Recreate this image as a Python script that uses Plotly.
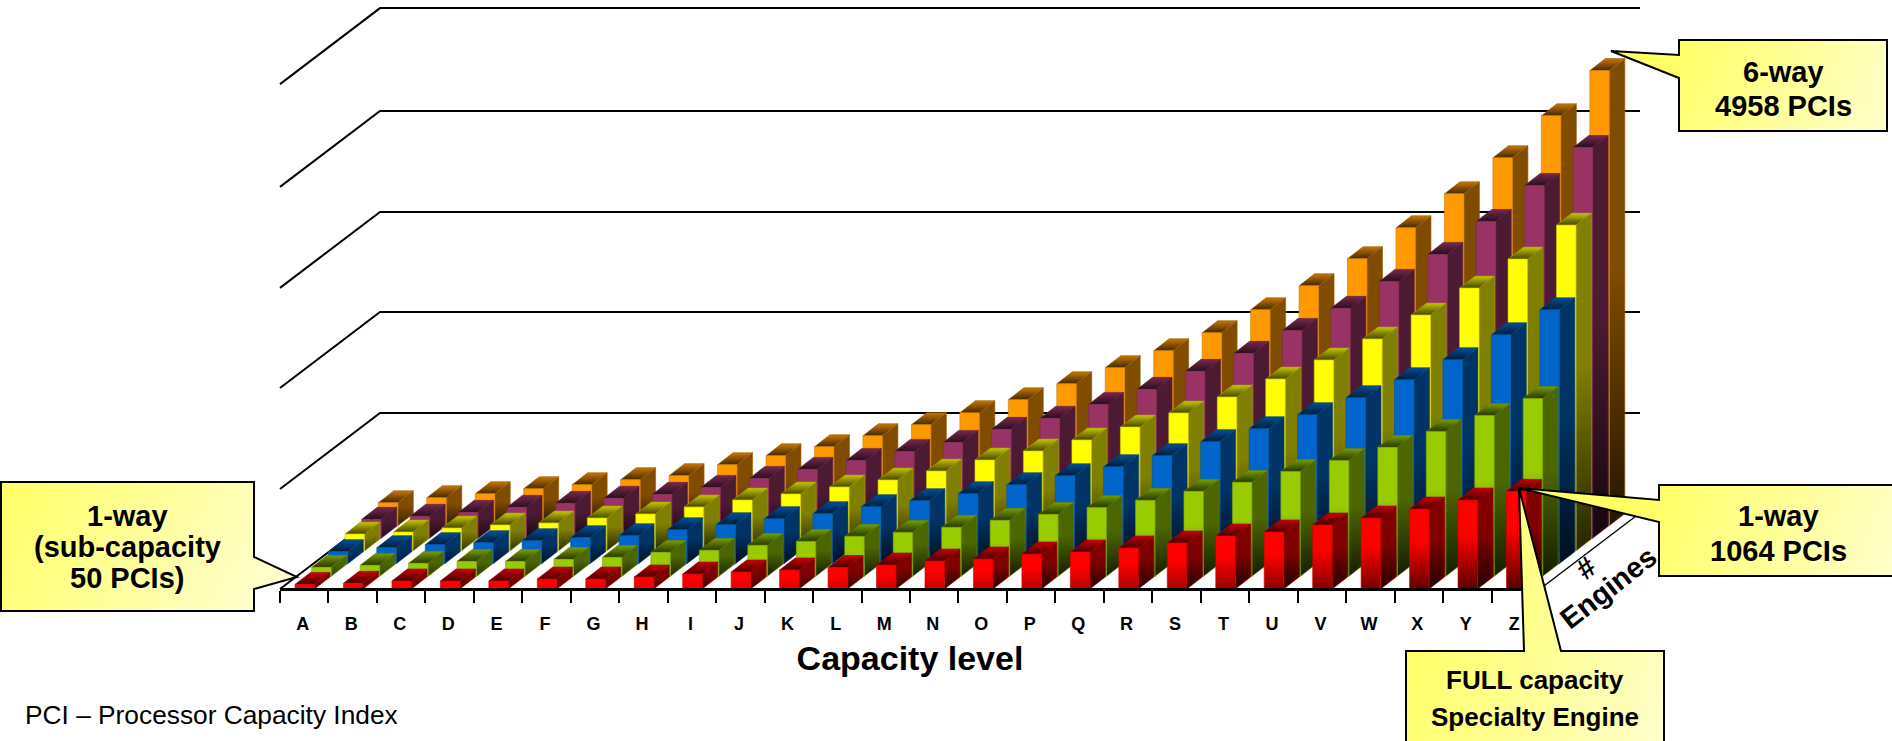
import base64
import plotly.graph_objects as go

CATEGORIES = list("ABCDEFGHIJKLMNOPQRSTUVWXYZ")
WAY_1 = [50, 62, 87, 87, 87, 109, 109, 131, 163, 185, 207, 234, 261, 305, 327, 381, 403, 447, 501, 577, 621, 697, 773, 871, 969, 1064]
WAY_2 = [98, 120, 142, 163, 163, 185, 207, 261, 283, 338, 381, 436, 479, 534, 610, 675, 751, 828, 926, 1024, 1143, 1263, 1405, 1579, 1753, 1938]
WAY_3 = [131, 174, 207, 229, 250, 283, 305, 370, 425, 490, 545, 621, 686, 762, 860, 958, 1056, 1176, 1329, 1470, 1623, 1808, 2004, 2222, 2494, 2766]
WAY_4 = [185, 207, 250, 283, 305, 359, 403, 479, 555, 621, 697, 773, 871, 991, 1089, 1209, 1350, 1503, 1677, 1873, 2080, 2309, 2570, 2864, 3180, 3550]
WAY_5 = [207, 240, 283, 338, 381, 436, 479, 555, 653, 751, 849, 947, 1045, 1187, 1307, 1459, 1623, 1819, 2015, 2265, 2505, 2799, 3093, 3452, 3844, 4258]
WAY_6 = [250, 305, 348, 403, 446, 501, 545, 664, 762, 860, 980, 1100, 1231, 1372, 1546, 1721, 1906, 2102, 2352, 2614, 2908, 3245, 3615, 4008, 4465, 4958]
SERIES = [WAY_1, WAY_2, WAY_3, WAY_4, WAY_5, WAY_6]
COLORS = [(255, 0, 0), (153, 204, 0), (0, 102, 204), (255, 255, 0), (153, 51, 102), (255, 153, 0)]
GRID_VALUES = [1090, 2190, 3280, 4380, 5500]

W, H = 1892, 741
FLOOR_X, FLOOR_Y = 280, 589
CAT_PX = 48.46
VAL_PX = 0.0918
DEPTH_PX = (100, 76)
BAR_INSET_PX, BAR_W_PX = 15, 19.5
BAR_DEPTH_PX = (15.5, 12)


def ux(px):
    return px / CAT_PX


def uy(px):
    return px / VAL_PX


def rgb(c, f=1.0):
    return "rgb(%d,%d,%d)" % tuple(round(v * f) for v in c)


def face(xs, ys, stops, line):
    lo, hi = min(ys), max(ys)
    return go.Scatter(
        x=xs + xs[:1], y=ys + ys[:1], mode="lines", fill="toself",
        fillgradient=dict(type="vertical", colorscale=stops, start=lo, stop=hi),
        line=dict(color=line, width=0.6), hoverinfo="skip", showlegend=False,
    )


fig = go.Figure()

# wall and floor lines
dx, dy = ux(DEPTH_PX[0]), uy(DEPTH_PX[1])
n = len(CATEGORIES)
for g in GRID_VALUES:
    fig.add_trace(go.Scatter(x=[0, dx, n + dx], y=[g, g + dy, g + dy], mode="lines",
                             line=dict(color="black", width=2), hoverinfo="skip", showlegend=False))
fig.add_trace(go.Scatter(x=[0, dx], y=[0, dy], mode="lines", line=dict(color="black", width=2),
                         hoverinfo="skip", showlegend=False))
fig.add_trace(go.Scatter(x=[n, n + dx], y=[0, dy], mode="lines", line=dict(color="black", width=1.4),
                         hoverinfo="skip", showlegend=False))

# bars, back row first
rows = len(SERIES)
for r in range(rows - 1, -1, -1):
    c = COLORS[r]
    ox = ux(DEPTH_PX[0] / rows * r)
    oy = uy(DEPTH_PX[1] / rows * r)
    bw = ux(BAR_W_PX)
    ddx, ddy = ux(BAR_DEPTH_PX[0]), uy(BAR_DEPTH_PX[1])
    for i, v in enumerate(SERIES[r]):
        x0 = i + ux(BAR_INSET_PX) + ox
        x1 = x0 + bw
        y0 = oy
        y1 = oy + v
        h = v * VAL_PX
        fb = max(0.35, 1 - h / 130)
        sb = max(0.28, 0.8 - h / 60)
        line_col = rgb(c, 0.62)
        # side
        fig.add_trace(face([x1, x1 + ddx, x1 + ddx, x1], [y0, y0 + ddy, y1 + ddy, y1],
                           [[0, rgb(c, 0.5 * sb)], [0.55, rgb(c, 0.5)], [1, rgb(c, 0.5)]], line_col))
        # top
        fig.add_trace(face([x0, x1, x1 + ddx, x0 + ddx], [y1, y1, y1 + ddy, y1 + ddy],
                           [[0, rgb(c, 0.27)], [1, rgb(c, 0.78)]], line_col))
        # front
        fig.add_trace(face([x0, x1, x1, x0], [y0, y0, y1, y1],
                           [[0, rgb(c, fb)], [0.6, rgb(c, 1)], [1, rgb(c, 1)]], rgb(c, 0.8)))

# axis carrier for the tick labels, ticks and title
fig.add_trace(go.Scatter(x=[0, n], y=[0, 0], xaxis="x2", yaxis="y2", mode="lines",
                         line=dict(color="black", width=2), hoverinfo="skip", showlegend=False))

fig.update_layout(
    width=W, height=H, autosize=False,
    margin=dict(l=0, r=0, t=0, b=0),
    paper_bgcolor="white", plot_bgcolor="rgba(0,0,0,0)",
    xaxis=dict(domain=[0, 1], range=[ux(-FLOOR_X), ux(W - FLOOR_X)], visible=False),
    yaxis=dict(domain=[0, 1], range=[uy(FLOOR_Y - H), uy(FLOOR_Y)], visible=False),
    xaxis2=dict(
        domain=[FLOOR_X / W, (FLOOR_X + n * CAT_PX) / W], range=[0, n], anchor="y2",
        showgrid=False, zeroline=False, showline=True, linecolor="black", linewidth=2,
        tickmode="array", tickvals=[i + 0.47 for i in range(n)], ticktext=CATEGORIES,
        ticks="outside", ticklen=17, tickcolor="rgba(0,0,0,0)",
        tickfont=dict(family="Liberation Sans", size=18, color="black", weight="bold"),
        tickangle=0,
        minor=dict(tickmode="array", tickvals=list(range(n + 1)), ticks="outside", ticklen=12,
                   tickwidth=2, tickcolor="black", showgrid=False),
        title=dict(text="<b>Capacity level</b>", standoff=14,
                   font=dict(family="Liberation Sans", size=34, color="black")),
    ),
    yaxis2=dict(domain=[(H - FLOOR_Y) / H, 1], range=[0, uy(FLOOR_Y)], anchor="x2", visible=False),
)

# callouts
svg = f'''<svg xmlns="http://www.w3.org/2000/svg" width="{W}" height="{H}" viewBox="0 0 {W} {H}">
<defs>'''
CALLOUTS = [
    ((1679, 40, 1887, 131), "1679,40 1887,40 1887,131 1679,131 1679,78 1611,51 1679,55"),
    ((1659, 485, 1895, 576), "1659,485 1895,485 1895,576 1659,576 1659,522 1519,488 1659,500"),
    ((1406, 651, 1664, 745), "1406,651 1524,651 1519,488 1561,651 1664,651 1664,745 1406,745"),
    ((1, 482, 254, 611), "1,482 254,482 254,557 297,577 254,589 254,611 1,611"),
]
for k, (b, _) in enumerate(CALLOUTS):
    svg += (f'<linearGradient id="g{k}" gradientUnits="userSpaceOnUse" x1="{b[0]}" y1="{b[1]}" x2="{b[2]}" y2="{b[3]}">'
            '<stop offset="0" stop-color="#ffff66"/><stop offset="1" stop-color="#ffffcc"/></linearGradient>')
svg += "</defs>"
for k, (_, p) in enumerate(CALLOUTS):
    svg += f'<polygon points="{p}" fill="url(#g{k})" stroke="black" stroke-width="2" stroke-linejoin="miter"/>'
svg += "</svg>"
uri = "data:image/svg+xml;base64," + base64.b64encode(svg.encode()).decode()
fig.add_layout_image(dict(source=uri, xref="paper", yref="paper", x=0, y=1, sizex=1, sizey=1,
                          xanchor="left", yanchor="top", sizing="stretch", layer="above"))


def label(text, px, py, size, bold=True, angle=0, anchor="center"):
    fig.add_annotation(
        text=f"<b>{text}</b>" if bold else text, x=px / W, y=1 - py / H, xref="paper", yref="paper",
        showarrow=False, xanchor=anchor, yanchor="middle", textangle=angle,
        font=dict(family="Liberation Sans", size=size, color="black"),
    )


label("6-way", 1783, 72, 29)
label("4958 PCIs", 1783, 106, 29)
label("1-way", 1778, 516, 29)
label("1064 PCIs", 1778, 551, 29)
label("FULL capacity", 1535, 680, 26)
label("Specialty Engine", 1535, 717, 26)
label("1-way", 127, 516, 29)
label("(sub-capacity", 127, 547, 29)
label("50 PCIs)", 127, 578, 29)
label("#", 1586, 568, 29, angle=-38)
label("Engines", 1608, 588, 29, angle=-38)
label("PCI – Processor Capacity Index", 23, 715, 26.3, bold=False, anchor="left")

fig.write_html("out.html", config={"displayModeBar": False},
               post_script="document.body.style.margin='0';document.body.style.overflow='hidden';")
